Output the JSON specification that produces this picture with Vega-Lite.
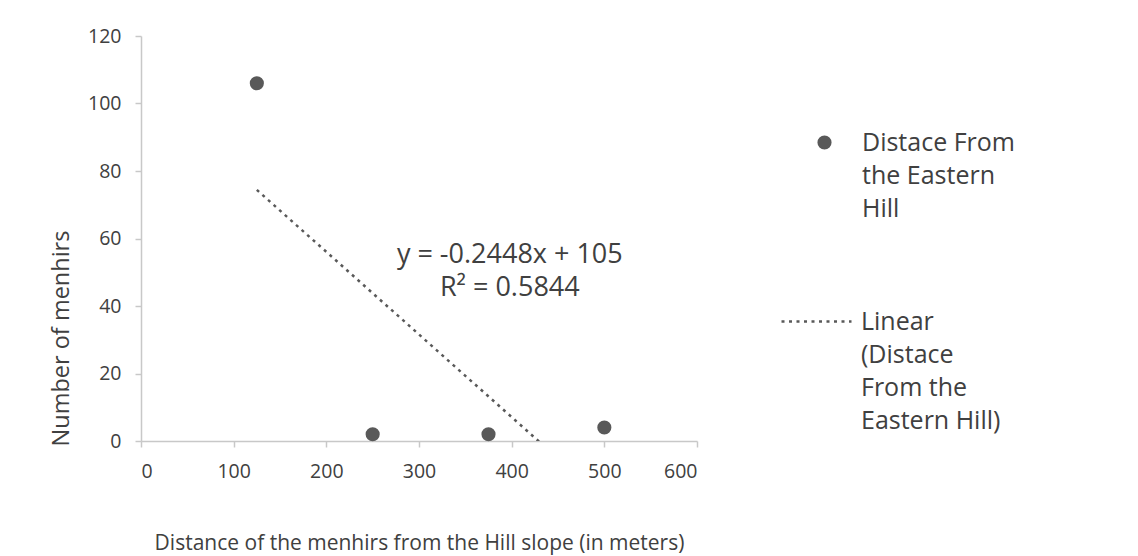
{
  "$schema": "https://vega.github.io/schema/vega-lite/v6.json",
  "width": 556,
  "height": 405,
  "autosize": {"type": "none"},
  "padding": {"left": 141, "top": 36, "right": 441, "bottom": 115},
  "background": "white",
  "config": {
    "view": {"stroke": null},
    "font": "Open Sans",
    "style": {"guide-label": {"lineHeight": 33}},
    "axis": {
      "domainColor": "#c8c8c8",
      "domainWidth": 1.5,
      "tickColor": "#c8c8c8",
      "tickWidth": 1.5,
      "grid": false,
      "labelFont": "Open Sans",
      "labelFontSize": 19.5,
      "labelColor": "#404040",
      "titleFont": "Open Sans",
      "titleFontWeight": "normal",
      "titleColor": "#404040"
    },
    "legend": {
      "padding": 0,
      "labelFont": "Open Sans",
      "labelFontSize": 25,
      "labelColor": "#404040",
      "labelLimit": 400,
      "labelBaseline": "middle"
    }
  },
  "resolve": {"scale": {"color": "independent"}, "legend": {"color": "independent"}},
  "data": {
    "values": [
      {"distance": 125, "menhirs": 106},
      {"distance": 250, "menhirs": 2},
      {"distance": 375, "menhirs": 2},
      {"distance": 500, "menhirs": 4}
    ]
  },
  "layer": [
    {
      "mark": {"type": "point", "filled": true, "size": 200, "opacity": 1, "strokeWidth": 0},
      "encoding": {
        "x": {
          "field": "distance", "type": "quantitative",
          "scale": {"domain": [0, 600], "nice": false, "zero": false},
          "axis": {
            "values": [0, 100, 200, 300, 400, 500, 600],
            "tickSize": 6, "labelPadding": 15,
            "title": "Distance of the menhirs from the Hill slope (in meters)",
            "titleFontSize": 21,
            "titlePadding": 52
          }
        },
        "y": {
          "field": "menhirs", "type": "quantitative",
          "scale": {"domain": [0, 120], "nice": false},
          "axis": {
            "values": [0, 20, 40, 60, 80, 100, 120],
            "tickSize": 6, "labelPadding": 14,
            "title": "Number of menhirs",
            "titleFontSize": 23.5,
            "titleX": -80, "titleY": 302,
            "titleAngle": -90, "titleAlign": "center", "titleBaseline": "middle"
          }
        },
        "color": {
          "datum": "Distace From the Eastern Hill",
          "type": "nominal",
          "scale": {"range": ["#595959"]},
          "legend": {
            "title": null,
            "orient": "none",
            "legendX": 671,
            "legendY": 94,
            "symbolType": "circle",
            "symbolSize": 200,
            "symbolStrokeWidth": 0,
            "symbolOpacity": 1,
            "labelOffset": 25,
            "labelExpr": "['Distace From', 'the Eastern', 'Hill']",
            "encode": {"labels": {"lineHeight": {"value": 33}}}
          }
        }
      }
    },
    {
      "transform": [{"regression": "menhirs", "on": "distance"}],
      "mark": {"type": "line", "clip": true, "strokeDash": [3, 4.5], "strokeWidth": 2.5},
      "encoding": {
        "x": {"field": "distance", "type": "quantitative"},
        "y": {"field": "menhirs", "type": "quantitative"},
        "color": {
          "datum": "Linear (Distace From the Eastern Hill)",
          "type": "nominal",
          "scale": {"range": ["#595959"]},
          "legend": {
            "title": null,
            "orient": "none",
            "legendX": 639,
            "legendY": 249,
            "symbolType": "stroke",
            "symbolSize": 4900,
            "symbolStrokeWidth": 2.5,
            "symbolDash": [3, 4.5],
            "symbolStrokeColor": "#595959",
            "labelOffset": 8,
            "labelExpr": "['Linear', '(Distace', 'From the', 'Eastern Hill)']",
            "encode": {"labels": {"lineHeight": {"value": 33}}}
          }
        }
      }
    },
    {
      "data": {"values": [{}]},
      "mark": {"type": "text", "align": "center", "baseline": "middle", "lineHeight": 33, "fontSize": 27, "color": "#404040"},
      "encoding": {
        "x": {"datum": 398, "type": "quantitative"},
        "y": {"datum": 55, "type": "quantitative"},
        "text": {"value": ["y = -0.2448x + 105", "R² = 0.5844"]}
      }
    }
  ]
}
